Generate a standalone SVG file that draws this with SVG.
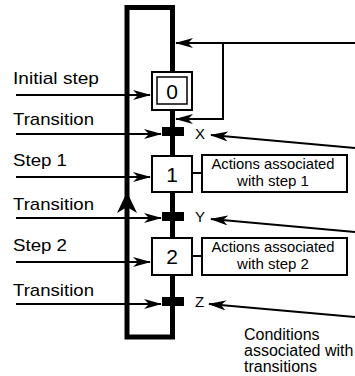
<svg xmlns="http://www.w3.org/2000/svg" width="355" height="376" viewBox="0 0 355 376">
  <style>
    text { font-family: "Liberation Sans", Arial, sans-serif; fill: #000; }
    .lbl { font-size: 17px; }
    .act { font-size: 14.5px; text-anchor: middle; }
    .num { font-size: 21px; text-anchor: middle; }
    .var { font-size: 15px; }
    .cond { font-size: 16px; }
    .box { fill: #fff; stroke: #000; stroke-width: 2; }
    .bar { fill: #000; }
    .wire { fill: none; stroke: #000; stroke-width: 2; }
    .arr { fill: none; stroke: #000; stroke-width: 2; marker-end: url(#ah); }
  </style>
  <defs>
    <marker id="ah" viewBox="0 0 18 10" refX="17" refY="5" markerWidth="18" markerHeight="10" markerUnits="userSpaceOnUse" orient="auto">
      <path d="M0,0 L18,5 L0,10 L5,5 Z" fill="#000"/>
    </marker>
  </defs>

  <g id="frame">
    <rect x="127" y="7.5" width="45.5" height="329.5" fill="none" stroke="#000" stroke-width="5"/>
    <path d="M127,192 L137,213 L127,207 L117,213 Z" fill="#000"/>
  </g>

  <g id="connectors">
    <line x1="172.5" y1="7.5" x2="172.5" y2="337" stroke="#000" stroke-width="5"/>
    <line class="arr" x1="355" y1="43" x2="176" y2="43"/>
    <polyline class="arr" points="223,43 223,119 176,119"/>
    <line class="arr" x1="16" y1="95" x2="150" y2="95"/>
    <line class="arr" x1="16" y1="134" x2="161" y2="134"/>
    <line class="arr" x1="16" y1="177" x2="150" y2="177"/>
    <line class="arr" x1="16" y1="218" x2="161" y2="218"/>
    <line class="arr" x1="16" y1="262" x2="150" y2="262"/>
    <line class="arr" x1="16" y1="304" x2="161" y2="304"/>
    <line class="arr" x1="355" y1="148" x2="211" y2="135"/>
    <line class="arr" x1="355" y1="232" x2="211" y2="219"/>
    <line class="arr" x1="355" y1="317" x2="209" y2="304"/>
    <line class="wire" x1="192" y1="173" x2="202" y2="173"/>
    <line class="wire" x1="192" y1="256" x2="202" y2="256"/>
  </g>

  <g id="step0">
    <rect class="box" x="152" y="72" width="40" height="38"/>
    <rect x="157" y="77" width="30" height="27" fill="none" stroke="#000" stroke-width="1.5"/>
    <text class="num" x="172" y="99">0</text>
  </g>
  <g id="step1">
    <rect class="box" x="152" y="156" width="40" height="36"/>
    <text class="num" x="172" y="182">1</text>
  </g>
  <g id="step2">
    <rect class="box" x="152" y="238" width="40" height="37"/>
    <text class="num" x="172" y="264">2</text>
  </g>

  <g id="transitionX">
    <rect class="bar" x="162" y="127" width="22" height="9"/>
    <text class="var" x="195" y="139">X</text>
  </g>
  <g id="transitionY">
    <rect class="bar" x="162" y="212" width="22" height="9"/>
    <text class="var" x="195" y="222">Y</text>
  </g>
  <g id="transitionZ">
    <rect class="bar" x="162" y="297" width="22" height="9"/>
    <text class="var" x="195" y="307">Z</text>
  </g>

  <g id="actions1">
    <rect class="box" x="202" y="155" width="145" height="37"/>
    <text class="act" x="273" y="169" textLength="123" lengthAdjust="spacingAndGlyphs">Actions associated</text>
    <text class="act" x="273" y="186" textLength="72" lengthAdjust="spacingAndGlyphs">with step 1</text>
  </g>
  <g id="actions2">
    <rect class="box" x="202" y="238" width="145" height="37"/>
    <text class="act" x="273" y="252" textLength="123" lengthAdjust="spacingAndGlyphs">Actions associated</text>
    <text class="act" x="273" y="269" textLength="72" lengthAdjust="spacingAndGlyphs">with step 2</text>
  </g>

  <g id="labels">
    <text class="lbl" x="13" y="84" textLength="86" lengthAdjust="spacingAndGlyphs">Initial step</text>
    <text class="lbl" x="13" y="125" textLength="81" lengthAdjust="spacingAndGlyphs">Transition</text>
    <text class="lbl" x="13" y="166" textLength="54" lengthAdjust="spacingAndGlyphs">Step 1</text>
    <text class="lbl" x="13" y="210" textLength="81" lengthAdjust="spacingAndGlyphs">Transition</text>
    <text class="lbl" x="13" y="251" textLength="54" lengthAdjust="spacingAndGlyphs">Step 2</text>
    <text class="lbl" x="13" y="296" textLength="81" lengthAdjust="spacingAndGlyphs">Transition</text>
  </g>

  <g id="conditions">
    <text class="cond" x="244" y="340">Conditions</text>
    <text class="cond" x="244" y="356">associated with</text>
    <text class="cond" x="244" y="372">transitions</text>
  </g>
</svg>
